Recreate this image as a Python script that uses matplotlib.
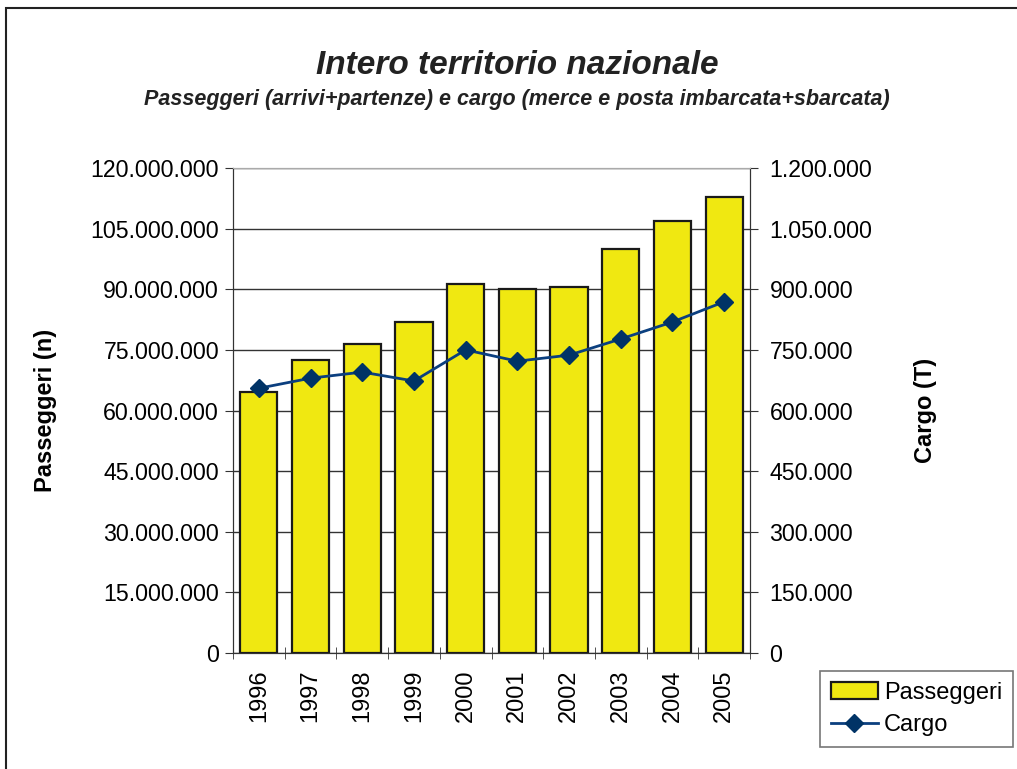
import numpy as np
import matplotlib.pyplot as plt
from matplotlib.ticker import FuncFormatter, FixedLocator
from matplotlib.patches import Rectangle

plt.rcParams['font.family'] = ['Liberation Sans', 'DejaVu Sans']

years = ['1996', '1997', '1998', '1999', '2000', '2001', '2002', '2003', '2004', '2005']
passeggeri = [64.6e6, 72.5e6, 76.4e6, 81.9e6, 91.3e6, 90.1e6, 90.5e6, 100.0e6, 106.9e6, 112.8e6]
cargo = [655e3, 680e3, 695e3, 673e3, 750e3, 722e3, 737e3, 777e3, 819e3, 869e3]

W, H = 1017, 769
fig = plt.figure(figsize=(W / 100, H / 100), dpi=100)

# outer frame of the chart area
fig.patches.append(Rectangle((6 / W, -0.02), 1.1, (H - 8) / H + 0.02, transform=fig.transFigure,
                             fill=False, edgecolor='#222222', linewidth=1.5))

ax = fig.add_axes([233 / W, 1 - 653 / H, (750 - 233) / W, (653 - 168) / H])
ax2 = ax.twinx()

x = np.arange(len(years))
ax.bar(x, passeggeri, width=0.72, color='#F0E811', edgecolor='#1a1a1a', linewidth=1.6,
       label='Passeggeri', zorder=3)
ax2.plot(x, cargo, color='#0B3F7F', linewidth=2, marker='D', markersize=9,
         markerfacecolor='#003366', markeredgecolor='#003366', label='Cargo', zorder=4)

def dots(v, pos):
    return f'{int(round(v)):,}'.replace(',', '.')

ax.set_ylim(0, 120e6)
ax.set_yticks(np.arange(0, 120e6 + 1, 15e6))
ax.yaxis.set_major_formatter(FuncFormatter(dots))
ax2.set_ylim(0, 1.2e6)
ax2.set_yticks(np.arange(0, 1.2e6 + 1, 150e3))
ax2.yaxis.set_major_formatter(FuncFormatter(dots))

ax.set_xlim(-0.5, len(years) - 0.5)
ax.set_xticks(x)
ax.set_xticklabels(years, rotation=90)
ax.tick_params(axis='x', which='major', length=0, labelsize=17, pad=12)
ax.xaxis.set_minor_locator(FixedLocator(np.arange(-0.5, len(years), 1)))
ax.tick_params(axis='x', which='minor', length=8, direction='inout', color='#333333')

ax.tick_params(axis='y', labelsize=16.7, length=6, direction='out', color='#333333', pad=4)
ax2.tick_params(axis='y', labelsize=16.7, length=6, direction='out', color='#333333', pad=8)

ax.grid(axis='y', color='#333333', linewidth=1, zorder=0)
ax.set_axisbelow(True)
for s in ['left', 'right', 'bottom']:
    ax.spines[s].set_color('#333333')
    ax2.spines[s].set_color('#333333')
ax.spines['top'].set_color('#aaaaaa')
ax2.spines['top'].set_color('#aaaaaa')

ax.set_ylabel('Passeggeri (n)', fontsize=17, fontweight='bold', labelpad=24)
ax2.set_ylabel('Cargo (T)', fontsize=17, fontweight='bold', labelpad=30)

fig.text(517 / W, 1 - 65 / H, 'Intero territorio nazionale', ha='center', va='center',
         fontsize=24, fontweight='bold', fontstyle='italic', color='#222222')
fig.text(517 / W, 1 - 100 / H, 'Passeggeri (arrivi+partenze) e cargo (merce e posta imbarcata+sbarcata)',
         ha='center', va='center', fontsize=15.5, fontweight='bold', fontstyle='italic', color='#222222')

h1, l1 = ax.get_legend_handles_labels()
h2, l2 = ax2.get_legend_handles_labels()
leg = fig.legend(h1 + h2, l1 + l2, loc='lower left', bbox_to_anchor=(820 / W, 1 - 747 / H),
                 fontsize=17, frameon=True, fancybox=False, edgecolor='#555555',
                 handlelength=2.0, borderpad=0.45, labelspacing=0.45, handletextpad=0.25,
                 borderaxespad=0)
leg.get_frame().set_linewidth(1.2)

fig.savefig('out.png', dpi=100)
